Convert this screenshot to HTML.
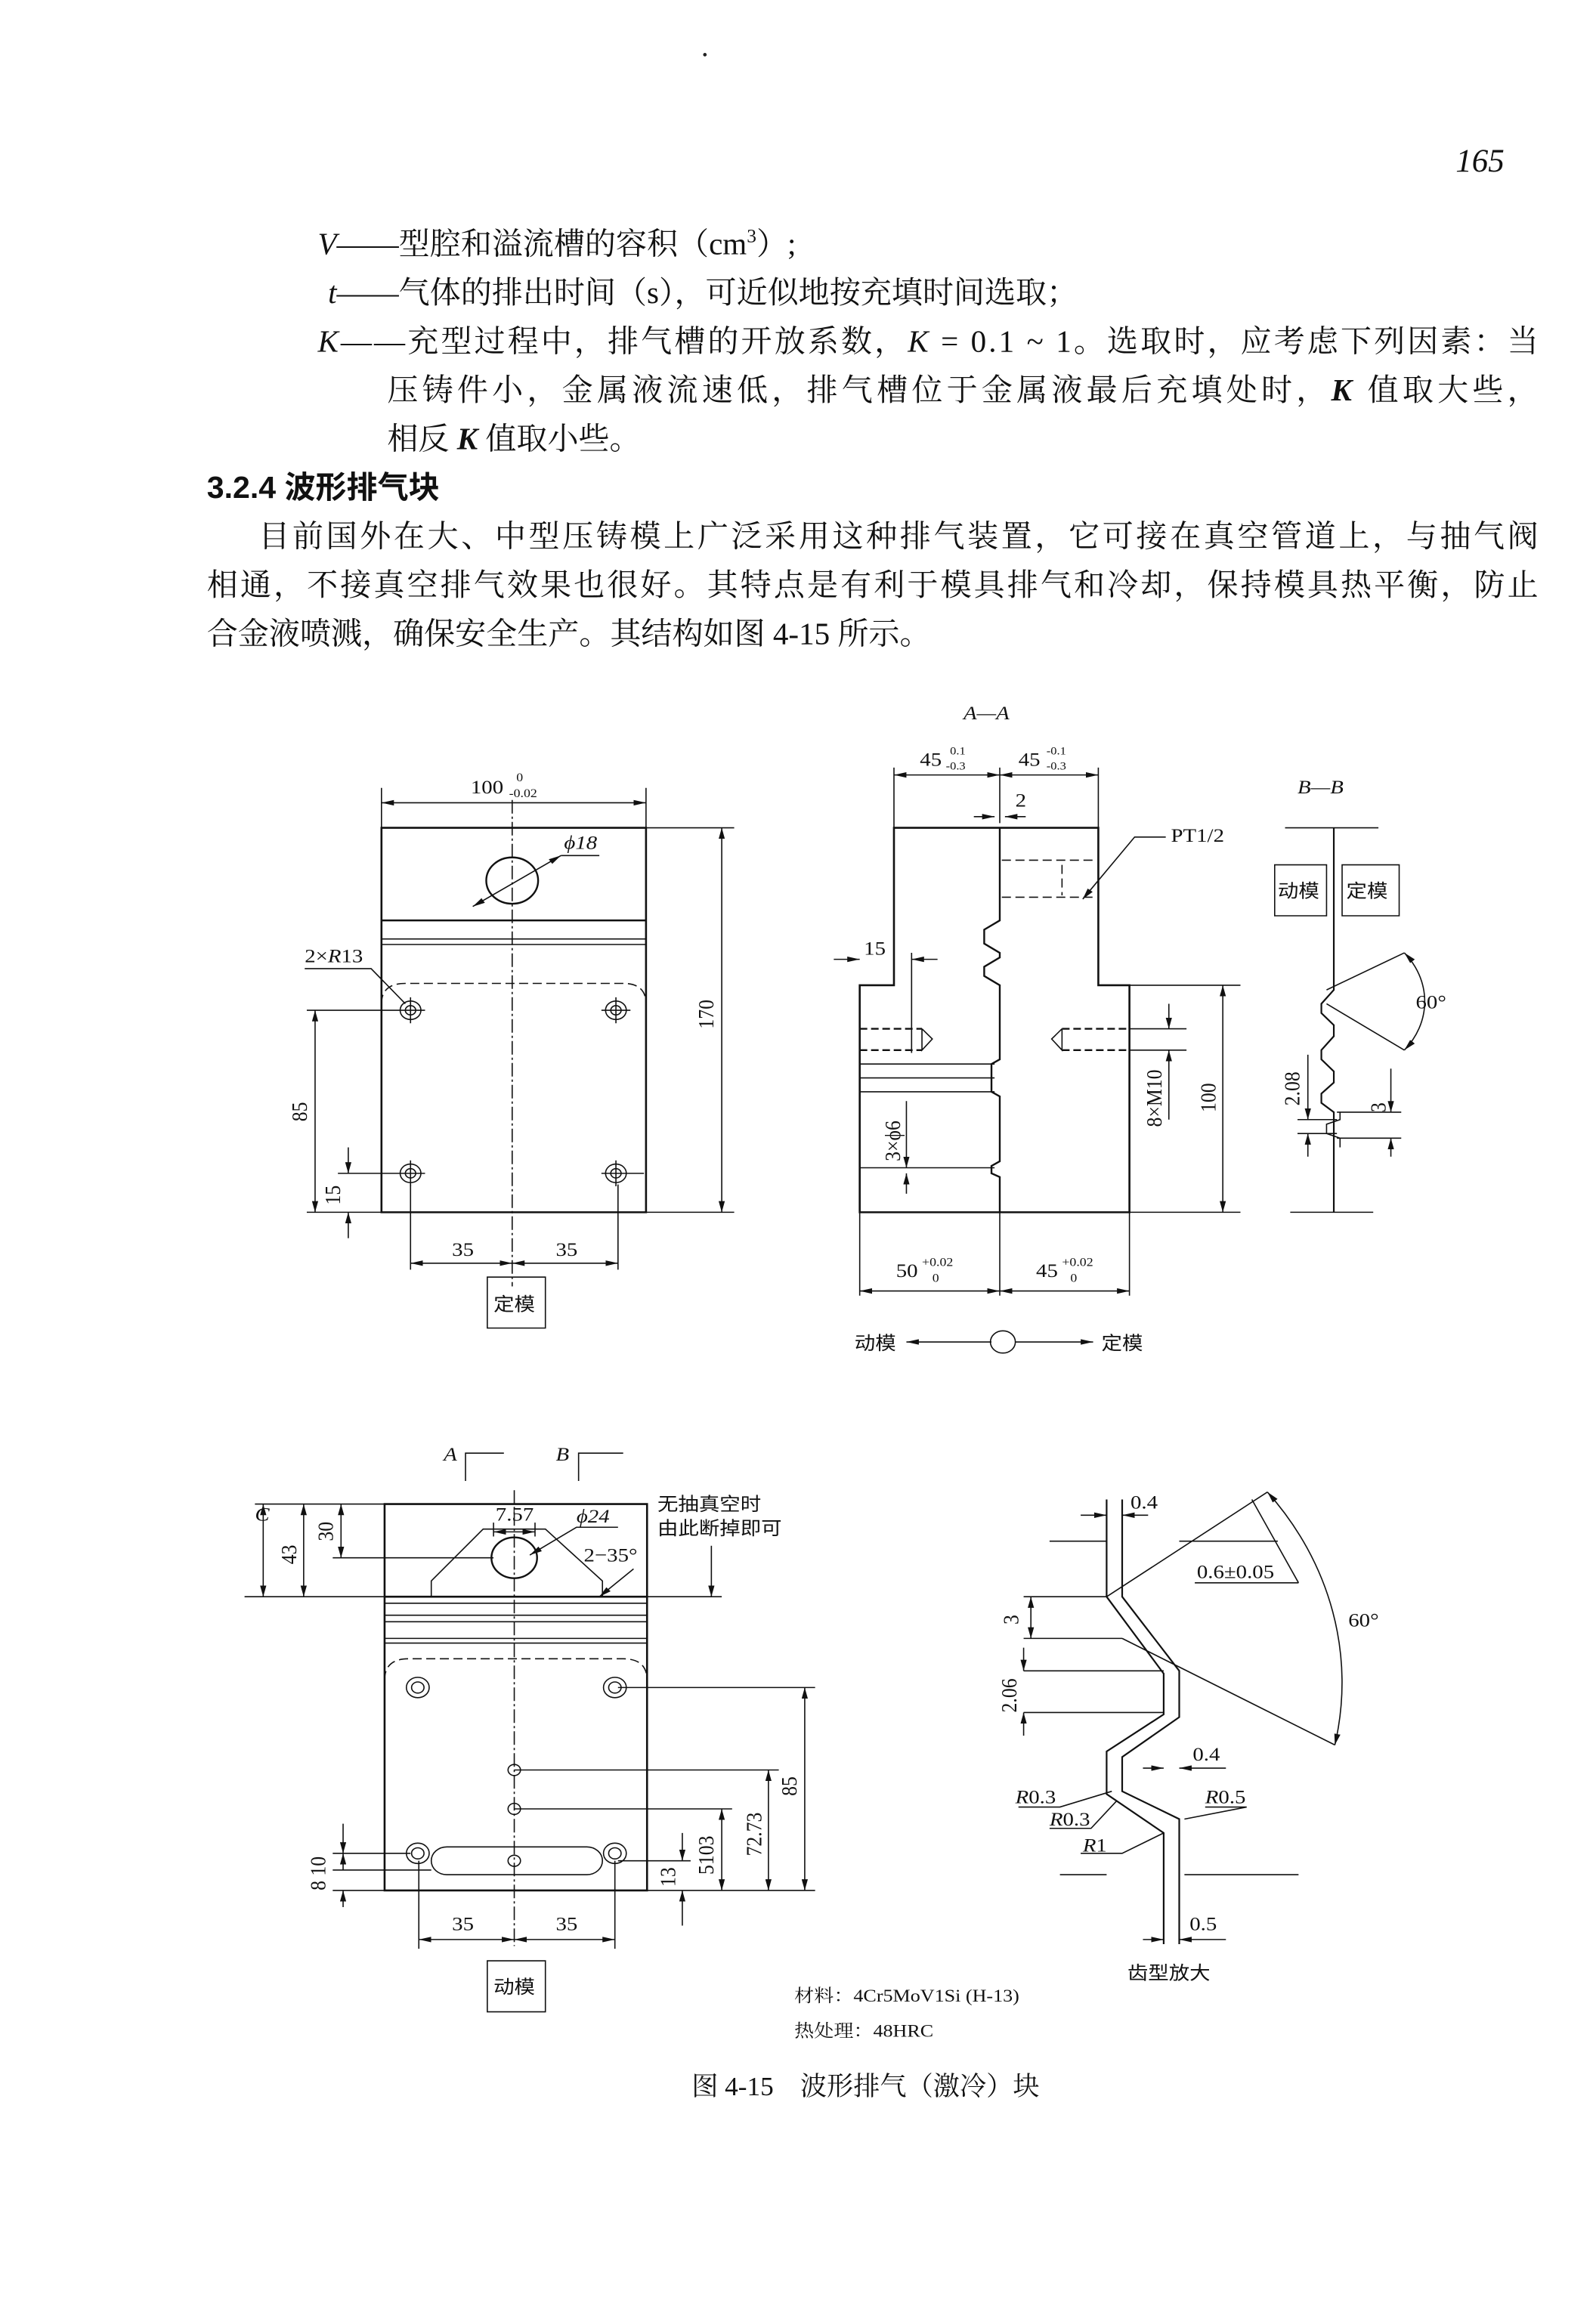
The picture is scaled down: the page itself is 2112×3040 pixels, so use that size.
<!DOCTYPE html>
<html><head><meta charset="utf-8"><style>
html,body{margin:0;padding:0;background:#fff}
svg{display:block}
.t{font-family:"Liberation Serif","Noto Serif CJK SC","Noto Sans CJK SC",serif;fill:#111}
.c{font-family:"Liberation Sans","Noto Sans CJK SC",sans-serif;fill:#111}
.s path,.s line,.s rect,.s circle{vector-effect:non-scaling-stroke}
.tx text{stroke:none;fill:#111}
</style></head><body>
<svg width="2112" height="3040" viewBox="0 0 1080 1554.5" xmlns="http://www.w3.org/2000/svg">
<defs>
<marker id="a" viewBox="0 0 12 6" refX="12" refY="3" markerWidth="12" markerHeight="6" markerUnits="userSpaceOnUse" orient="auto-start-reverse"><path d="M0,0 L12,3 L0,6z" fill="#111"/></marker>
</defs>
<rect width="1080" height="1554.5" fill="#fff"/>
<circle cx="477" cy="37" r="1.2" fill="#222"/>
<text x="985" y="116" class="t" font-size="22" font-style="italic">165</text>
<g class="t" font-size="21">
<text x="215" y="172"><tspan font-style="italic">V</tspan>——型腔和溢流槽的容积（cm<tspan font-size="13" dy="-8">3</tspan><tspan dy="8">）;</tspan></text>
<text x="222" y="205"><tspan font-style="italic">t</tspan>——气体的排出时间（s），可近似地按充填时间选取；</text>
<text x="215" y="238" textLength="826" lengthAdjust="spacing"><tspan font-style="italic">K</tspan>——充型过程中，排气槽的开放系数，<tspan font-style="italic">K</tspan> = 0.1 ~ 1。选取时，应考虑下列因素：当</text>
<text x="262" y="271" textLength="779" lengthAdjust="spacing">压铸件小，金属液流速低，排气槽位于金属液最后充填处时，<tspan font-style="italic" font-weight="bold">K</tspan> 值取大些，</text>
<text x="262" y="304">相反 <tspan font-style="italic" font-weight="bold">K</tspan> 值取小些。</text>
<text x="140" y="337" font-weight="bold" class="c">3.2.4  波形排气块</text>
<text x="175" y="370" textLength="866" lengthAdjust="spacing">目前国外在大、中型压铸模上广泛采用这种排气装置，它可接在真空管道上，与抽气阀</text>
<text x="140" y="403" textLength="901" lengthAdjust="spacing">相通，不接真空排气效果也很好。其特点是有利于模具排气和冷却，保持模具热平衡，防止</text>
<text x="140" y="436">合金液喷溅，确保安全生产。其结构如图 4-15 所示。</text>
<text x="468" y="1418" font-size="18">图 4-15　波形排气（激冷）块</text>
</g>

<g transform="matrix(0.702,0,0,0.627,-3,463)" fill="none" stroke="#111" stroke-width="1.6" class="s" font-family="Liberation Serif, Noto Serif CJK SC, serif" font-size="21">

<!-- ========== LEFT VIEWS ========== -->
<g>
<rect x="372" y="155" width="255" height="415" stroke-width="2.6"/>
<line x1="372" y1="255" x2="627" y2="255" stroke-width="2.6"/>
<line x1="372" y1="275" x2="627" y2="275"/>
<line x1="372" y1="281" x2="627" y2="281"/>
<path d="M372,345 Q372,323 395,323 L605,323 Q627,323 627,345" stroke-dasharray="12,6"/>
<circle cx="498" cy="212" r="25" stroke-width="2.4"/>
<line x1="460" y1="240" x2="545" y2="185" marker-start="url(#a)" marker-end="url(#a)"/>
<line x1="545" y1="185" x2="582" y2="185"/>
<line x1="498" y1="125" x2="498" y2="650" stroke-dasharray="18,4,3,4"/>
<circle cx="400" cy="352" r="10"/><circle cx="400" cy="352" r="5"/>
<circle cx="598" cy="352" r="10"/><circle cx="598" cy="352" r="5"/>
<circle cx="400" cy="528" r="10"/><circle cx="400" cy="528" r="5"/>
<circle cx="598" cy="528" r="10"/><circle cx="598" cy="528" r="5"/>
<path d="M386,352H414M400,338V366M584,352H612M598,338V366M386,528H414M400,514V542M584,528H612M598,514V542M300,352H386M300,570H372M330,528H386M612,528H625"/>
<path d="M372,112V155M627,112V155"/>
<line x1="372" y1="128" x2="627" y2="128" marker-start="url(#a)" marker-end="url(#a)"/>
<path d="M627,155H712M627,570H712"/>
<line x1="700" y1="155" x2="700" y2="570" marker-start="url(#a)" marker-end="url(#a)"/>
<line x1="308" y1="352" x2="308" y2="570" marker-start="url(#a)" marker-end="url(#a)"/>
<line x1="340" y1="500" x2="340" y2="528" marker-end="url(#a)"/>
<line x1="340" y1="598" x2="340" y2="570" marker-end="url(#a)"/>
<path d="M400,540V632M600,540V632"/>
<line x1="400" y1="625" x2="498" y2="625" marker-start="url(#a)" marker-end="url(#a)"/>
<line x1="498" y1="625" x2="600" y2="625" marker-start="url(#a)" marker-end="url(#a)"/>
<rect x="474" y="640" width="56" height="55"/>
<path d="M298,307H362L395,345"/>

<path d="M453,860V830H490M562,860V830H605"/>
<rect x="375" y="885" width="253" height="417" stroke-width="2.6"/>
<path d="M420,985V968L470,912H530L585,968V985"/>
<circle cx="500" cy="943" r="22" stroke-width="2.4"/>
<path d="M375,985H628" stroke-width="2.6"/>
<path d="M375,992H628M375,1005H628M375,1012H628M375,1030H628M375,1035H628"/>
<path d="M375,1075Q375,1052 398,1052H605Q628,1052 628,1075" stroke-dasharray="12,6"/>
<circle cx="407" cy="1083" r="11"/><circle cx="407" cy="1083" r="6"/>
<circle cx="597" cy="1083" r="11"/><circle cx="597" cy="1083" r="6"/>
<circle cx="500" cy="1172" r="6"/><circle cx="500" cy="1214" r="6"/><circle cx="500" cy="1270" r="6"/>
<circle cx="407" cy="1262" r="11"/><circle cx="407" cy="1262" r="6"/>
<circle cx="597" cy="1262" r="11"/><circle cx="597" cy="1262" r="6"/>
<rect x="420" y="1255" width="165" height="30" rx="15"/>
<line x1="500" y1="870" x2="500" y2="1362" stroke-dasharray="18,4,3,4"/>
<path d="M250,885H375M240,985H700M325,943H480"/>
<line x1="258" y1="885" x2="258" y2="985" marker-start="url(#a)" marker-end="url(#a)"/>
<line x1="297" y1="885" x2="297" y2="985" marker-start="url(#a)" marker-end="url(#a)"/>
<line x1="333" y1="885" x2="333" y2="943" marker-start="url(#a)" marker-end="url(#a)"/>
<path d="M480,905V920M520,905V920"/>
<line x1="480" y1="915" x2="520" y2="915" marker-start="url(#a)" marker-end="url(#a)"/>
<path d="M600,910H560L515,940" marker-end="url(#a)"/>
<line x1="615" y1="955" x2="582" y2="985" marker-end="url(#a)"/>
<line x1="690" y1="930" x2="690" y2="985" marker-end="url(#a)"/>
<path d="M600,1083H790M500,1172H755M500,1214H710M600,1270H670M628,1302H790"/>
<line x1="780" y1="1083" x2="780" y2="1302" marker-start="url(#a)" marker-end="url(#a)"/>
<line x1="745" y1="1172" x2="745" y2="1302" marker-start="url(#a)" marker-end="url(#a)"/>
<line x1="700" y1="1214" x2="700" y2="1302" marker-start="url(#a)" marker-end="url(#a)"/>
<line x1="662" y1="1240" x2="662" y2="1270" marker-end="url(#a)"/>
<line x1="662" y1="1340" x2="662" y2="1302" marker-end="url(#a)"/>
<path d="M325,1262H400M325,1280H420M325,1302H375"/>
<line x1="335" y1="1230" x2="335" y2="1262" marker-end="url(#a)"/>
<line x1="335" y1="1280" x2="335" y2="1262" marker-end="url(#a)"/>
<line x1="335" y1="1320" x2="335" y2="1302" marker-end="url(#a)"/>
<path d="M408,1270V1365M597,1270V1365"/>
<line x1="408" y1="1355" x2="500" y2="1355" marker-start="url(#a)" marker-end="url(#a)"/>
<line x1="500" y1="1355" x2="597" y2="1355" marker-start="url(#a)" marker-end="url(#a)"/>
<rect x="474" y="1378" width="56" height="55"/>

<g class="tx">
<text x="458" y="118">100</text><text x="502" y="105" font-size="13">0</text><text x="495" y="122" font-size="13">-0.02</text>
<text x="548" y="178" font-style="italic">ϕ18</text>
<text x="298" y="300">2×<tspan font-style="italic">R</tspan>13</text>
<text transform="translate(692,372) rotate(-90)">170</text>
<text transform="translate(300,472) rotate(-90)">85</text>
<text transform="translate(332,562) rotate(-90)">15</text>
<text x="440" y="617">35</text><text x="540" y="617">35</text>
<text x="480" y="676" font-family="Noto Sans CJK SC, sans-serif" font-size="20">定模</text>
<text x="432" y="838" font-style="italic">A</text><text x="540" y="838" font-style="italic">B</text>
<text x="250" y="903" font-style="italic">C</text>
<text transform="translate(290,950) rotate(-90)">43</text>
<text transform="translate(325,925) rotate(-90)">30</text>
<text x="482" y="903">7.57</text>
<text x="560" y="905" font-style="italic">ϕ24</text>
<text x="567" y="947">2−35°</text>
<text x="638" y="892" font-family="Noto Sans CJK SC, sans-serif" font-size="20">无抽真空时</text>
<text x="638" y="918" font-family="Noto Sans CJK SC, sans-serif" font-size="20">由此断掉即可</text>
<text transform="translate(772,1200) rotate(-90)">85</text>
<text transform="translate(738,1265) rotate(-90)">72.73</text>
<text transform="translate(692,1285) rotate(-90)">5103</text>
<text transform="translate(655,1298) rotate(-90)">13</text>
<text transform="translate(318,1302) rotate(-90)">8 10</text>
<text x="440" y="1345">35</text><text x="540" y="1345">35</text>
<text x="480" y="1413" font-family="Noto Sans CJK SC, sans-serif" font-size="20">动模</text>
<text x="770" y="1422" font-size="19">材料：4Cr5MoV1Si (H-13)</text>
<text x="770" y="1460" font-size="19">热处理：48HRC</text>
</g>
</g>

<!-- ========== A-A ========== -->
<g transform="translate(-12,0)">
<path d="M878,155H1075V325H1105V570H845V325H878Z" stroke-width="2.6"/>
<path d="M980,155V255L965,265V280L980,290V295L965,305V315L980,325V405L972,410V440L980,445V515L972,520V528L980,532V570" stroke-width="2.4"/>
<line x1="980" y1="570" x2="980" y2="660"/>
<path d="M845,410H975M845,425H975M845,440H975M845,522H975"/>
<path d="M878,90V155M980,90V150M1075,90V155"/>
<line x1="878" y1="98" x2="980" y2="98" marker-start="url(#a)" marker-end="url(#a)"/>
<line x1="980" y1="98" x2="1075" y2="98" marker-start="url(#a)" marker-end="url(#a)"/>
<line x1="955" y1="143" x2="975" y2="143" marker-end="url(#a)"/>
<line x1="1005" y1="143" x2="985" y2="143" marker-end="url(#a)"/>
<path d="M982,190H1070M982,230H1070M1040,195V228" stroke-dasharray="12,6"/>
<path d="M1140,165H1110L1060,232" marker-end="url(#a)"/>
<path d="M845,372H905M845,395H905" stroke-dasharray="10,5" stroke-width="2.4"/>
<path d="M905,372L915,383L905,395V372M895,290V398"/>
<line x1="820" y1="297" x2="845" y2="297" marker-end="url(#a)"/>
<line x1="920" y1="297" x2="895" y2="297" marker-end="url(#a)"/>
<path d="M1040,372H1105M1040,395H1105" stroke-dasharray="10,5" stroke-width="2.4"/>
<path d="M1040,372L1030,383L1040,395V372M1105,372H1160M1105,395H1160"/>
<line x1="1143" y1="345" x2="1143" y2="372" marker-end="url(#a)"/>
<line x1="1143" y1="470" x2="1143" y2="395" marker-end="url(#a)"/>
<path d="M1105,325H1212M1105,570H1212"/>
<line x1="1195" y1="325" x2="1195" y2="570" marker-start="url(#a)" marker-end="url(#a)"/>
<line x1="890" y1="450" x2="890" y2="522" marker-end="url(#a)"/>
<line x1="890" y1="550" x2="890" y2="528" marker-end="url(#a)"/>
<path d="M845,570V660M1105,570V660"/>
<line x1="845" y1="655" x2="980" y2="655" marker-start="url(#a)" marker-end="url(#a)"/>
<line x1="980" y1="655" x2="1105" y2="655" marker-start="url(#a)" marker-end="url(#a)"/>
<line x1="972" y1="710" x2="890" y2="710" marker-end="url(#a)"/>
<line x1="995" y1="710" x2="1070" y2="710" marker-end="url(#a)"/>
<circle cx="983" cy="710" r="12"/>
<g class="tx">
<text x="945" y="38" font-style="italic">A—A</text>
<text x="903" y="88">45</text><text x="932" y="76" font-size="12">0.1</text><text x="928" y="92" font-size="12">-0.3</text>
<text x="998" y="88">45</text><text x="1025" y="76" font-size="12">-0.1</text><text x="1025" y="92" font-size="12">-0.3</text>
<text x="995" y="132">2</text>
<text x="849" y="292">15</text>
<text x="1145" y="170">PT1/2</text>
<text transform="translate(1136,478) rotate(-90)">8×M10</text>
<text transform="translate(1188,462) rotate(-90)">100</text>
<text transform="translate(884,515) rotate(-90)">3×ϕ6</text>
<text x="880" y="640">50</text><text x="905" y="628" font-size="13">+0.02</text><text x="915" y="645" font-size="13">0</text>
<text x="1015" y="640">45</text><text x="1040" y="628" font-size="13">+0.02</text><text x="1048" y="645" font-size="13">0</text>
<text x="840" y="718" font-family="Noto Sans CJK SC, sans-serif" font-size="20">动模</text>
<text x="1078" y="718" font-family="Noto Sans CJK SC, sans-serif" font-size="20">定模</text>
</g>
</g>

<!-- ========== B-B ========== -->
<g transform="translate(-7,0)">
<path d="M1250,155H1340M1255,570H1335"/>
<path d="M1297,155V330L1285,345V355L1297,368V380L1285,395V405L1297,418V430L1285,442V452L1297,462V570" stroke-width="2.2"/>
<path d="M1303,462V470L1290,475V485L1303,490V500"/>
<rect x="1240" y="195" width="50" height="55"/>
<rect x="1305" y="195" width="55" height="55"/>
<path d="M1290,330L1365,290M1290,345L1365,395"/>
<path d="M1365,290A80,80 0 0 1 1365,395" marker-start="url(#a)" marker-end="url(#a)"/>
<path d="M1262,470H1300M1262,485H1300M1300,462H1362M1300,490H1362"/>
<line x1="1272" y1="400" x2="1272" y2="470" marker-end="url(#a)"/>
<line x1="1272" y1="510" x2="1272" y2="485" marker-end="url(#a)"/>
<line x1="1352" y1="415" x2="1352" y2="462" marker-end="url(#a)"/>
<line x1="1352" y1="510" x2="1352" y2="490" marker-end="url(#a)"/>
<g class="tx">
<text x="1262" y="118" font-style="italic">B—B</text>
<text x="1243" y="230" font-family="Noto Sans CJK SC, sans-serif" font-size="20">动模</text>
<text x="1309" y="230" font-family="Noto Sans CJK SC, sans-serif" font-size="20">定模</text>
<text x="1376" y="350">60°</text>
<text transform="translate(1264,455) rotate(-90)">2.08</text>
<text transform="translate(1347,462) rotate(-90)">3</text>
</g>
</g>

<!-- ========== TOOTH DETAIL ========== -->
<g transform="translate(-14,0)">
<path d="M1030,925H1085M1155,925H1250M1040,1285H1085M1160,1285H1270"/>
<path d="M1085,880V985L1140,1068V1112L1085,1152V1198L1140,1240V1360" stroke-width="2.2"/>
<path d="M1100,880V985L1155,1065V1115L1100,1158V1195L1155,1225V1360" stroke-width="2.2"/>
<path d="M1085,985L1240,872M1100,1030L1305,1145M1005,985H1085M1005,1030H1100M1005,1065H1140M1005,1110H1140"/>
<path d="M1240,872A330,330 0 0 1 1305,1145" marker-start="url(#a)" marker-end="url(#a)"/>
<line x1="1060" y1="897" x2="1085" y2="897" marker-end="url(#a)"/>
<line x1="1125" y1="897" x2="1100" y2="897" marker-end="url(#a)"/>
<path d="M1270,970H1170M1270,970L1225,880"/>
<line x1="1012" y1="985" x2="1012" y2="1030" marker-start="url(#a)" marker-end="url(#a)"/>
<line x1="1005" y1="1040" x2="1005" y2="1065" marker-end="url(#a)"/>
<line x1="1005" y1="1135" x2="1005" y2="1110" marker-end="url(#a)"/>
<line x1="1120" y1="1170" x2="1140" y2="1170" marker-end="url(#a)"/>
<line x1="1200" y1="1170" x2="1155" y2="1170" marker-end="url(#a)"/>
<path d="M1000,1212H1040L1090,1195M1030,1235H1070L1095,1205M1060,1262H1100L1140,1240M1180,1212H1220L1160,1225"/>
<line x1="1120" y1="1355" x2="1140" y2="1355" marker-end="url(#a)"/>
<line x1="1200" y1="1355" x2="1155" y2="1355" marker-end="url(#a)"/>
<g class="tx">
<text x="1108" y="890">0.4</text>
<text x="1172" y="965">0.6±0.05</text>
<text x="1318" y="1017">60°</text>
<text transform="translate(1000,1015) rotate(-90)">3</text>
<text transform="translate(998,1110) rotate(-90)">2.06</text>
<text x="1168" y="1162">0.4</text>
<text x="997" y="1208"><tspan font-style="italic">R</tspan>0.3</text>
<text x="1030" y="1232"><tspan font-style="italic">R</tspan>0.3</text>
<text x="1062" y="1260"><tspan font-style="italic">R</tspan>1</text>
<text x="1180" y="1208"><tspan font-style="italic">R</tspan>0.5</text>
<text x="1165" y="1345">0.5</text>
<text x="1105" y="1398" font-family="Noto Sans CJK SC, sans-serif" font-size="20">齿型放大</text>
</g>
</g>
</g>
</svg>
</body></html>
